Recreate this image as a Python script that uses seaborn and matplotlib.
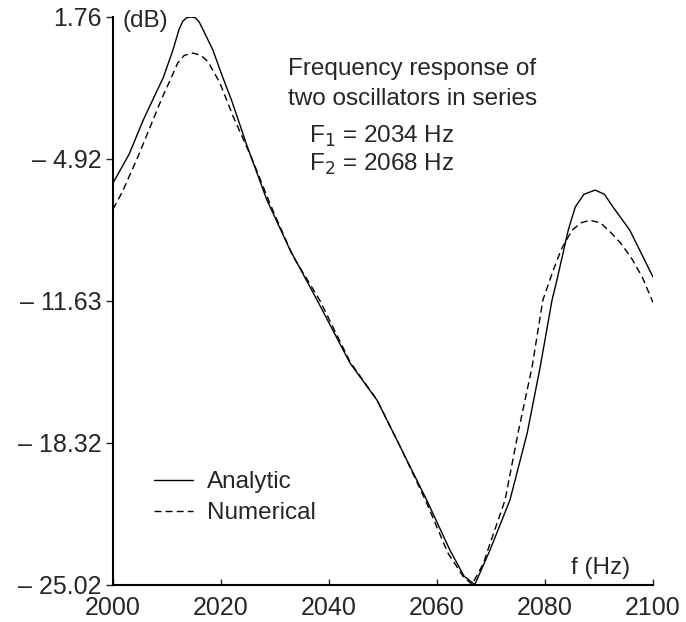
import numpy as np
import matplotlib
matplotlib.use("Agg")
import matplotlib.pyplot as plt
import seaborn as sns
import pandas as pd

# frequency (Hz) and level (dB)
f_analytic = [2000, 2003, 2005.6, 2008, 2009.3, 2011.1, 2012.2, 2012.9, 2013.6, 2014.4,
              2015.2, 2015.9, 2016.6, 2018.5, 2020.2, 2022, 2024.8, 2028.5, 2032.8,
              2037.8, 2043.9, 2048.9, 2053.5, 2058.1, 2062.4, 2065, 2067, 2069.8,
              2073.5, 2076.7, 2079.1, 2081.3, 2082.2, 2084.3, 2085.6, 2087.2, 2089.3,
              2091, 2092.6, 2095.7, 2100]
db_analytic = [-6.07, -4.7, -3.1, -1.8, -1.1, 0.2, 1.15, 1.55, 1.72, 1.76,
               1.73, 1.55, 1.2, 0.2, -1.0, -2.2, -4.3, -6.87, -9.23,
               -11.59, -14.56, -16.31, -18.66, -21.02, -23.38, -24.6, -25.0, -23.38,
               -21.02, -17.86, -14.75, -11.59, -10.65, -8.29, -7.2, -6.6, -6.4,
               -6.6, -7.2, -8.29, -10.5]

f_numerical = [2000, 2001.7, 2004.5, 2007.4, 2009, 2010.6, 2012, 2013.2, 2014.8, 2016.3,
               2017.6, 2019.8, 2022.2, 2025.7, 2029, 2033.3, 2038.3, 2043.9, 2048.9,
               2053.5, 2058, 2062, 2064.8, 2066.5, 2068.6, 2069.4, 2072.6, 2075,
               2077.6, 2079.6, 2081.5, 2083, 2085, 2086.6, 2088.3, 2090.3, 2092,
               2094, 2096, 2098, 2100]
db_numerical = [-7.3, -6.5, -4.9, -3.1, -2.1, -1.21, -0.4, -0.05, 0.06, -0.05,
                -0.35, -1.35, -2.9, -4.9, -7.0, -9.5, -11.6, -14.5, -16.3,
                -18.66, -21.1, -23.5, -24.6, -25.0, -24.0, -23.38, -21.02, -17.86,
                -14.75, -11.59, -10.2, -9.2, -8.3, -7.95, -7.82, -7.95, -8.35,
                -8.9, -9.6, -10.5, -11.7]

y_ticks = [1.76, -4.92, -11.63, -18.32, -25.02]
y_tick_labels = ["1.76", "\u2013 4.92", "\u2013 11.63", "\u2013 18.32", "\u2013 25.02"]
x_ticks = [2000, 2020, 2040, 2060, 2080, 2100]

df = pd.concat([
    pd.DataFrame({"f": f_analytic, "dB": db_analytic, "method": "Analytic"}),
    pd.DataFrame({"f": f_numerical, "dB": db_numerical, "method": "Numerical"}),
])

sns.set_style("ticks")
plt.rcParams['font.family'] = ['Liberation Sans', 'DejaVu Sans']
fs = 17.5
tfs = 18

fig = plt.figure(figsize=(6.86, 6.22), dpi=100)
ax = fig.add_axes([113 / 686, 1 - 585 / 622, 540 / 686, 568 / 622])

sns.lineplot(data=df, x="f", y="dB", style="method", color="black",
             dashes={"Analytic": "", "Numerical": (5, 3)},
             estimator=None, sort=False, linewidth=1.0, ax=ax)

ax.set_xlim(2000, 2100)
ax.set_ylim(-25.02, 1.76)
ax.set_xticks(x_ticks)
ax.set_yticks(y_ticks)
ax.set_yticklabels(y_tick_labels)
ax.tick_params(axis="x", direction="in", length=4, width=1, labelsize=tfs, pad=8)
ax.tick_params(axis="y", direction="out", length=5, width=1, labelsize=tfs, pad=3)
ax.set_xlabel("")
ax.set_ylabel("")
sns.despine(ax=ax)
for s in ["left", "bottom"]:
    ax.spines[s].set_linewidth(1.5)
    ax.spines[s].set_color("black")

ax.text(2001.7, 1.55, "(dB)", fontsize=fs, va="center", ha="left")
ax.text(2084.8, -24.2, "f (Hz)", fontsize=fs, va="center", ha="left")

ax.text(2055.4, -0.7, "Frequency response of", fontsize=fs, ha="center", va="center")
ax.text(2055.4, -2.1, "two oscillators in series", fontsize=fs, ha="center", va="center")
ax.text(2036.3, -3.85, "F$_1$ = 2034 Hz", fontsize=fs, ha="left", va="center")
ax.text(2036.3, -5.2, "F$_2$ = 2068 Hz", fontsize=fs, ha="left", va="center")

sns.move_legend(ax, "upper left", bbox_to_anchor=(0.076, 0.2), title=None,
                frameon=False, fontsize=fs, handlelength=1.6, handletextpad=0.58,
                labelspacing=0.36, borderaxespad=0, borderpad=0)

fig.savefig("out.png", dpi=100)
